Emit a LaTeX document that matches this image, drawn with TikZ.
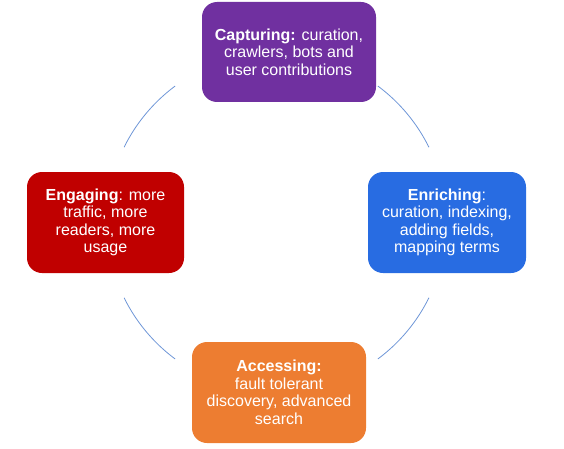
\documentclass[tikz,border=0pt]{standalone}
\usepackage{fontspec}
\setmainfont{Liberation Sans}
\definecolor{cpurple}{RGB}{112,48,160}
\definecolor{cred}{RGB}{192,0,0}
\definecolor{cblue}{RGB}{40,108,226}
\definecolor{corange}{RGB}{237,125,49}
\definecolor{carc}{RGB}{110,150,215}
\tikzset{
  phase/.style={rounded corners=15pt, inner sep=0pt, align=center, text=white,
    font=\fontsize{16}{17.5}\selectfont},
  cyclearc/.style={draw=carc, line width=0.8pt}
}
\begin{document}
\begin{tikzpicture}[x=1pt,y=1pt]
\useasboundingbox (0,0) rectangle (564,448);
\coordinate (c) at (276.5,225.5);
\node[phase, fill=cpurple, minimum width=174pt, minimum height=100pt] (cap) at (289,396)
  {\textbf{Capturing:} curation,\\crawlers, bots and\\user contributions};
\node[phase, fill=cred, minimum width=157pt, minimum height=101pt] (eng) at (105.5,225.5)
  {\textbf{Engaging}: more\\traffic, more\\readers, more\\usage};
\node[phase, fill=cblue, minimum width=158pt, minimum height=101pt] (enr) at (447,225.5)
  {\textbf{Enriching}:\\curation, indexing,\\adding fields,\\mapping terms};
\node[phase, fill=corange, minimum width=174pt, minimum height=101pt] (acc) at (279,55.5)
  {\textbf{Accessing:}\\fault tolerant\\discovery, advanced\\search};
\draw[cyclearc] (c) ++(126.6:170pt) arc[start angle=126.6, end angle=153.7, radius=170pt];
\draw[cyclearc] (c) ++(206.3:170pt) arc[start angle=206.3, end angle=233.4, radius=170pt];
\draw[cyclearc] (c) ++(306.6:170pt) arc[start angle=306.6, end angle=333.7, radius=170pt];
\draw[cyclearc] (c) ++(26.3:170pt) arc[start angle=26.3, end angle=53.4, radius=170pt];
\end{tikzpicture}
\end{document}
